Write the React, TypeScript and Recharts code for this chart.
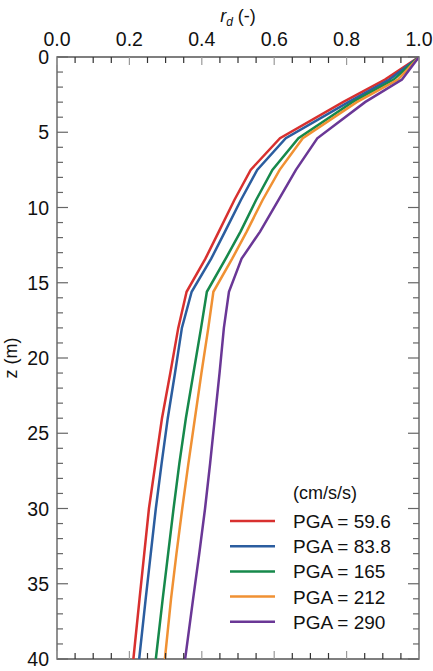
import { LineChart, Line, XAxis, YAxis, Legend, ReferenceArea } from 'recharts';

// depth of layer boundaries (m)
const depths = [0, 1.5, 3, 5.4, 7.5, 9.5, 11.6, 13.4, 15.6, 18, 21, 24, 27, 30, 33, 36, 40];

// stress reduction factor rd for each input motion
const rdPga596 = [1.0, 0.906, 0.79, 0.616, 0.535, 0.49, 0.447, 0.41, 0.358, 0.335, 0.313, 0.29, 0.272, 0.254, 0.241, 0.228, 0.211];
const rdPga838 = [1.0, 0.918, 0.805, 0.632, 0.553, 0.508, 0.464, 0.426, 0.372, 0.345, 0.326, 0.306, 0.289, 0.273, 0.259, 0.245, 0.227];
const rdPga165 = [1.0, 0.93, 0.816, 0.667, 0.595, 0.55, 0.507, 0.466, 0.414, 0.398, 0.377, 0.356, 0.338, 0.322, 0.307, 0.292, 0.273];
const rdPga212 = [1.0, 0.942, 0.828, 0.679, 0.615, 0.568, 0.524, 0.484, 0.432, 0.418, 0.399, 0.381, 0.363, 0.346, 0.33, 0.315, 0.298];
const rdPga290 = [1.0, 0.953, 0.851, 0.719, 0.66, 0.612, 0.561, 0.51, 0.475, 0.461, 0.449, 0.436, 0.423, 0.409, 0.393, 0.376, 0.354];

const series = [
  { key: 'pga596', label: 'PGA = 59.6', color: '#d8302f', values: rdPga596 },
  { key: 'pga838', label: 'PGA = 83.8', color: '#2b5d9f', values: rdPga838 },
  { key: 'pga165', label: 'PGA = 165', color: '#16894b', values: rdPga165 },
  { key: 'pga212', label: 'PGA = 212', color: '#f09133', values: rdPga212 },
  { key: 'pga290', label: 'PGA = 290', color: '#6a3796', values: rdPga290 },
];

const xTicks = Array.from({ length: 21 }, (_, i) => i * 5 / 100);
const yTicks = Array.from({ length: 41 }, (_, i) => i);

const W = 433;
const H = 671;
const TOP = 57;
const LEFT = 57;
const RIGHT = 14;
const BOTTOM = 12;
const FONT = '"Liberation Sans", Arial, sans-serif';

const chartData = depths.map((z, i) => {
  const row: any = { z };
  series.forEach((s) => { row[s.key] = s.values[i]; });
  return row;
});

// ticks point inward, mirrored on the bottom edge
const XTick = (props: any) => {
  const { x, payload } = props;
  const v = payload.value;
  const major = Math.round(v * 100) % 20 === 0;
  const len = major ? 8 : 6;
  const col = major ? '#9a9a9a' : '#333';
  return (
    <g>
      <line x1={x} x2={x} y1={TOP} y2={TOP + len} stroke={col} strokeWidth={1.2} />
      <line x1={x} x2={x} y1={H - BOTTOM} y2={H - BOTTOM - len} stroke={col} strokeWidth={1.2} />
      {major && (
        <text x={x} y={TOP - 11} textAnchor="middle" fontSize={19.5} fill="#111" fontFamily={FONT}>
          {v.toFixed(1)}
        </text>
      )}
    </g>
  );
};

// ticks point inward, mirrored on the right edge
const YTick = (props: any) => {
  const { y, payload } = props;
  const v = payload.value;
  const major = v % 5 === 0;
  const len = major ? 11 : 6;
  const col = '#666';
  return (
    <g>
      <line x1={LEFT} x2={LEFT + len} y1={y} y2={y} stroke={col} strokeWidth={1.2} />
      <line x1={W - RIGHT} x2={W - RIGHT - len} y1={y} y2={y} stroke={col} strokeWidth={1.2} />
      {major && (
        <text x={LEFT - 8} y={y} dy={7} textAnchor="end" fontSize={19.5} fill="#111" fontFamily={FONT}>
          {v}
        </text>
      )}
    </g>
  );
};

const XTitle = (props: any) => {
  const vb = props.viewBox;
  return (
    <text x={vb.x + vb.width / 2} y={22} textAnchor="middle" fontSize={18} fill="#111" fontFamily={FONT}>
      <tspan fontStyle="italic">r</tspan>
      <tspan fontStyle="italic" fontSize={12} dy={4}>d</tspan>
      <tspan dy={-4}> (-)</tspan>
    </text>
  );
};

const YTitle = (props: any) => {
  const vb = props.viewBox;
  const cy = vb.y + vb.height / 2;
  return (
    <text x={17} y={cy} transform={`rotate(-90 17 ${cy})`} textAnchor="middle" fontSize={18} fill="#111" fontFamily={FONT}>
      z (m)
    </text>
  );
};

const renderLegend = () => (
  <svg width={200} height={160} style={{ fontFamily: FONT }}>
    <text x={63} y={14} dy={7} fontSize={18} fill="#111">(cm/s/s)</text>
    {series.map((s, i) => {
      const cy = 43 + i * 25.2;
      return (
        <g key={s.key}>
          <line x1={0} x2={45} y1={cy} y2={cy} stroke={s.color} strokeWidth={2.5} />
          <text x={63} y={cy} dy={7} fontSize={19} fill="#111">{s.label}</text>
        </g>
      );
    })}
  </svg>
);

export default function App() {
  return (
    <div style={{ position: 'absolute', left: 0, top: 0, background: '#fff' }}>
      <LineChart
        width={W}
        height={H}
        data={chartData}
        layout="vertical"
        margin={{ top: 0, left: 0, right: RIGHT, bottom: BOTTOM }}
        style={{ fontFamily: FONT }}
      >
        <XAxis
          type="number"
          orientation="top"
          domain={[0, 1]}
          ticks={xTicks}
          interval={0}
          height={TOP}
          tickSize={0}
          tickMargin={0}
          tickLine={false}
          axisLine={false}
          tick={<XTick />}
          label={{ content: <XTitle /> }}
          allowDataOverflow
        />
        <YAxis
          type="number"
          dataKey="z"
          domain={[0, 40]}
          ticks={yTicks}
          interval={0}
          width={LEFT}
          tickSize={0}
          tickMargin={0}
          tickLine={false}
          axisLine={false}
          tick={<YTick />}
          label={{ content: <YTitle /> }}
          allowDataOverflow
        />
        <ReferenceArea x1={0} x2={1} y1={0} y2={40} fill="none" stroke="#555" strokeWidth={1.3} ifOverflow="visible" />
        {series.map((s) => (
          <Line
            key={s.key}
            type="linear"
            dataKey={s.key}
            name={s.label}
            stroke={s.color}
            strokeWidth={2.5}
            dot={false}
            isAnimationActive={false}
          />
        ))}
        <Legend
          layout="vertical"
          align="center"
          verticalAlign="middle"
          content={renderLegend}
          wrapperStyle={{ left: 230, top: 478, width: 200, height: 160 }}
        />
      </LineChart>
    </div>
  );
}
